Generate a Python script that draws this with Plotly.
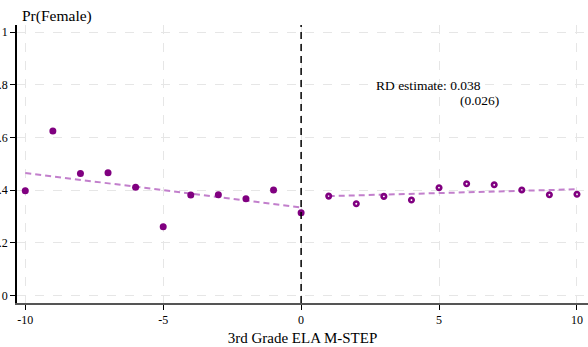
import plotly.graph_objects as go

# Data
x_left = [-10, -9, -8, -7, -6, -5, -4, -3, -2, -1, 0]
y_left = [0.397, 0.624, 0.463, 0.466, 0.411, 0.261, 0.381, 0.382, 0.367, 0.400, 0.314]
x_right = [1, 2, 3, 4, 5, 6, 7, 8, 9, 10]
y_right = [0.377, 0.348, 0.376, 0.362, 0.409, 0.424, 0.420, 0.400, 0.382, 0.384]
fit_left_x = [-10, 0]
fit_left_y = [0.465, 0.334]
fit_right_x = [1, 10]
fit_right_y = [0.377, 0.403]
y_tickvals = [0, 0.2, 0.4, 0.6, 0.8, 1]
y_ticktext = ["0", ".2", ".4", ".6", ".8", "1"]
x_tickvals = [-10, -5, 0, 5, 10]
x_ticktext = ["-10", "-5", "0", "5", "10"]

FONT = "Liberation Serif"
PURPLE = "#800080"
FITC = "#c27fcc"

fig = go.Figure()
fig.add_trace(go.Scatter(x=fit_left_x, y=fit_left_y, mode="lines",
                         line=dict(color=FITC, width=2, dash="6px,4px"), showlegend=False))
fig.add_trace(go.Scatter(x=fit_right_x, y=fit_right_y, mode="lines",
                         line=dict(color=FITC, width=2, dash="6px,4px"), showlegend=False))
fig.add_trace(go.Scatter(x=x_left, y=y_left, mode="markers",
                         marker=dict(color=PURPLE, size=7, symbol="circle"), showlegend=False))
fig.add_trace(go.Scatter(x=x_right, y=y_right, mode="markers",
                         marker=dict(color=PURPLE, size=4.5, symbol="circle-open",
                                     line=dict(color=PURPLE, width=2.6)), showlegend=False))

# cutoff line
fig.add_shape(type="line", xref="x", yref="paper", x0=0, x1=0, y0=0, y1=1,
              line=dict(color="black", width=1.5, dash="7px,5px"))

fig.add_annotation(x=2.65, y=0.797, xref="x", yref="y", xanchor="left", yanchor="middle",
                   text="RD estimate: 0.038", showarrow=False,
                   font=dict(family=FONT, size=13.5, color="black"))
fig.add_annotation(x=5.7, y=0.741, xref="x", yref="y", xanchor="left", yanchor="middle",
                   text="(0.026)", showarrow=False,
                   font=dict(family=FONT, size=13.5, color="black"))
fig.add_annotation(x=0.0, y=1.0, xref="paper", yref="paper", text="Pr(Female)",
                   xanchor="left", yanchor="bottom", xshift=3, yshift=-2,
                   showarrow=False, font=dict(family=FONT, size=15.5, color="black"))

fig.update_layout(
    width=588, height=347,
    margin=dict(l=17, r=0, t=25, b=44),
    paper_bgcolor="white", plot_bgcolor="white",
    font=dict(family=FONT, size=12, color="black"),
    xaxis=dict(range=[-10.3, 10.4], tickvals=x_tickvals, ticktext=x_ticktext,
               showgrid=True, gridcolor="#e6e6e6", griddash="dash", gridwidth=1,
               zeroline=False, showline=True, linecolor="#555555", linewidth=1.5,
               ticks="outside", ticklen=5, tickcolor="black",
               tickfont=dict(family=FONT, size=12),
               title=dict(text="3rd Grade ELA M-STEP", font=dict(family=FONT, size=15), standoff=6)),
    yaxis=dict(range=[-0.029, 1.027], tickvals=y_tickvals, ticktext=y_ticktext,
               showgrid=True, gridcolor="#e6e6e6", griddash="dash", gridwidth=1,
               zeroline=False, showline=True, linecolor="black", linewidth=1.5,
               ticks="outside", ticklen=5, tickcolor="black",
               tickfont=dict(family=FONT, size=12)),
)

fig.write_html("out.html")
